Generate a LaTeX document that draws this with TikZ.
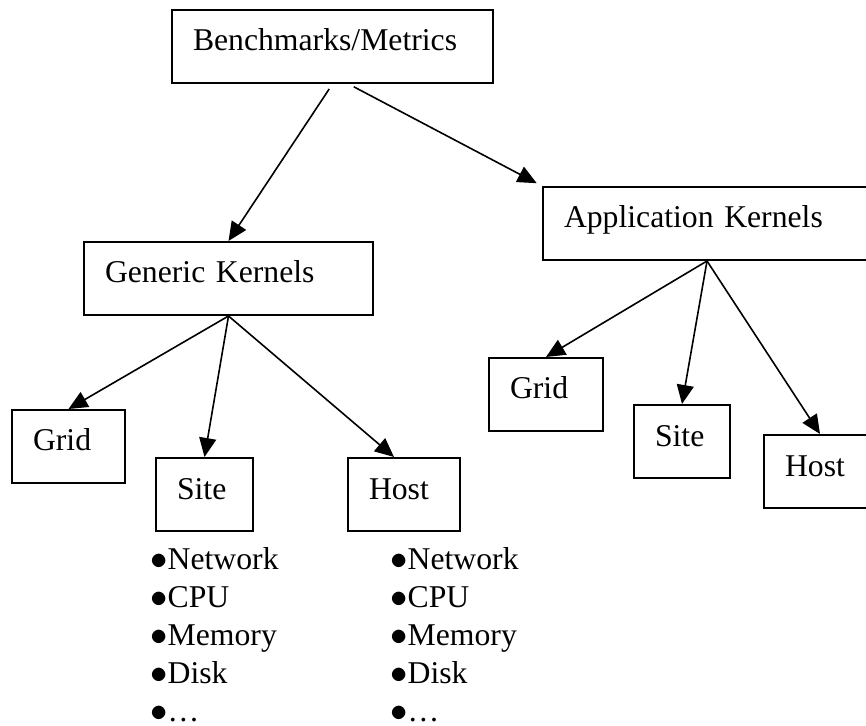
\documentclass[tikz,border=0pt]{standalone}
\usepackage{fontspec}
\setmainfont{Liberation Serif}
\usetikzlibrary{arrows.meta, positioning}

\tikzset{
    kbox/.style={draw, rectangle, line width=1pt, inner xsep=10.5pt, inner ysep=0pt,
        text height=20.5pt, text depth=16pt, text width=#1, align=left, anchor=north west},
    karrow/.style={-{Triangle[length=9.5pt, width=8.5pt]}, line width=0.8pt},
    kitem/.style={inner sep=0pt, anchor=base west}
}

\begin{document}
\begin{tikzpicture}[x=0.5pt, y=-0.5pt, font=\fontsize{15.85}{19}\selectfont]
        \useasboundingbox (0,0) rectangle (866,726);

        % Top node
        \node[kbox=139.5pt] (bench) at (171,9) {Benchmarks/Metrics};

        % Second level
        \node[kbox=123.5pt] (generic) at (83,241) {Generic Kernels};
        \node[kbox=143pt] (app) at (542,186) {Application Kernels};

        % Children of the generic kernels
        \node[kbox=35.5pt] (gridL) at (11,409) {Grid};
        \node[kbox=27.5pt] (siteL) at (155,457) {Site};
        \node[kbox=35pt] (hostL) at (347,457) {Host};

        % Children of the application kernels
        \node[kbox=36pt] (gridR) at (488,357) {Grid};
        \node[kbox=27pt] (siteR) at (633,404) {Site};
        \node[kbox=35pt] (hostR) at (763,434) {Host};

        % Arrows
        \draw[karrow, shorten <=3pt] (bench.south) -- (generic.north);
        \draw[karrow, shorten <=3pt, shorten >=3pt] ([xshift=8pt]bench.south) -- (app.north west);
        \draw[karrow] (generic.south) -- (gridL.north);
        \draw[karrow] (generic.south) -- (siteL.north);
        \draw[karrow] (generic.south) -- ([xshift=-5pt]hostL.north);
        \draw[karrow] (app.south) -- (gridR.north);
        \draw[karrow] (app.south) -- (siteR.north);
        \draw[karrow] (app.south) -- (hostR.north);

        % Lists under Site and Host
        \node[kitem] (siteNet) at (150,569) {$\bullet$Network};
        \node[kitem] (siteCpu) at (150,607) {$\bullet$CPU};
        \node[kitem] (siteMem) at (150,645) {$\bullet$Memory};
        \node[kitem] (siteDisk) at (150,683) {$\bullet$Disk};
        \node[kitem] (siteMore) at (150,721) {$\bullet$…};
        \node[kitem] (hostNet) at (390,569) {$\bullet$Network};
        \node[kitem] (hostCpu) at (390,607) {$\bullet$CPU};
        \node[kitem] (hostMem) at (390,645) {$\bullet$Memory};
        \node[kitem] (hostDisk) at (390,683) {$\bullet$Disk};
        \node[kitem] (hostMore) at (390,721) {$\bullet$…};
    \end{tikzpicture}
\end{document}
